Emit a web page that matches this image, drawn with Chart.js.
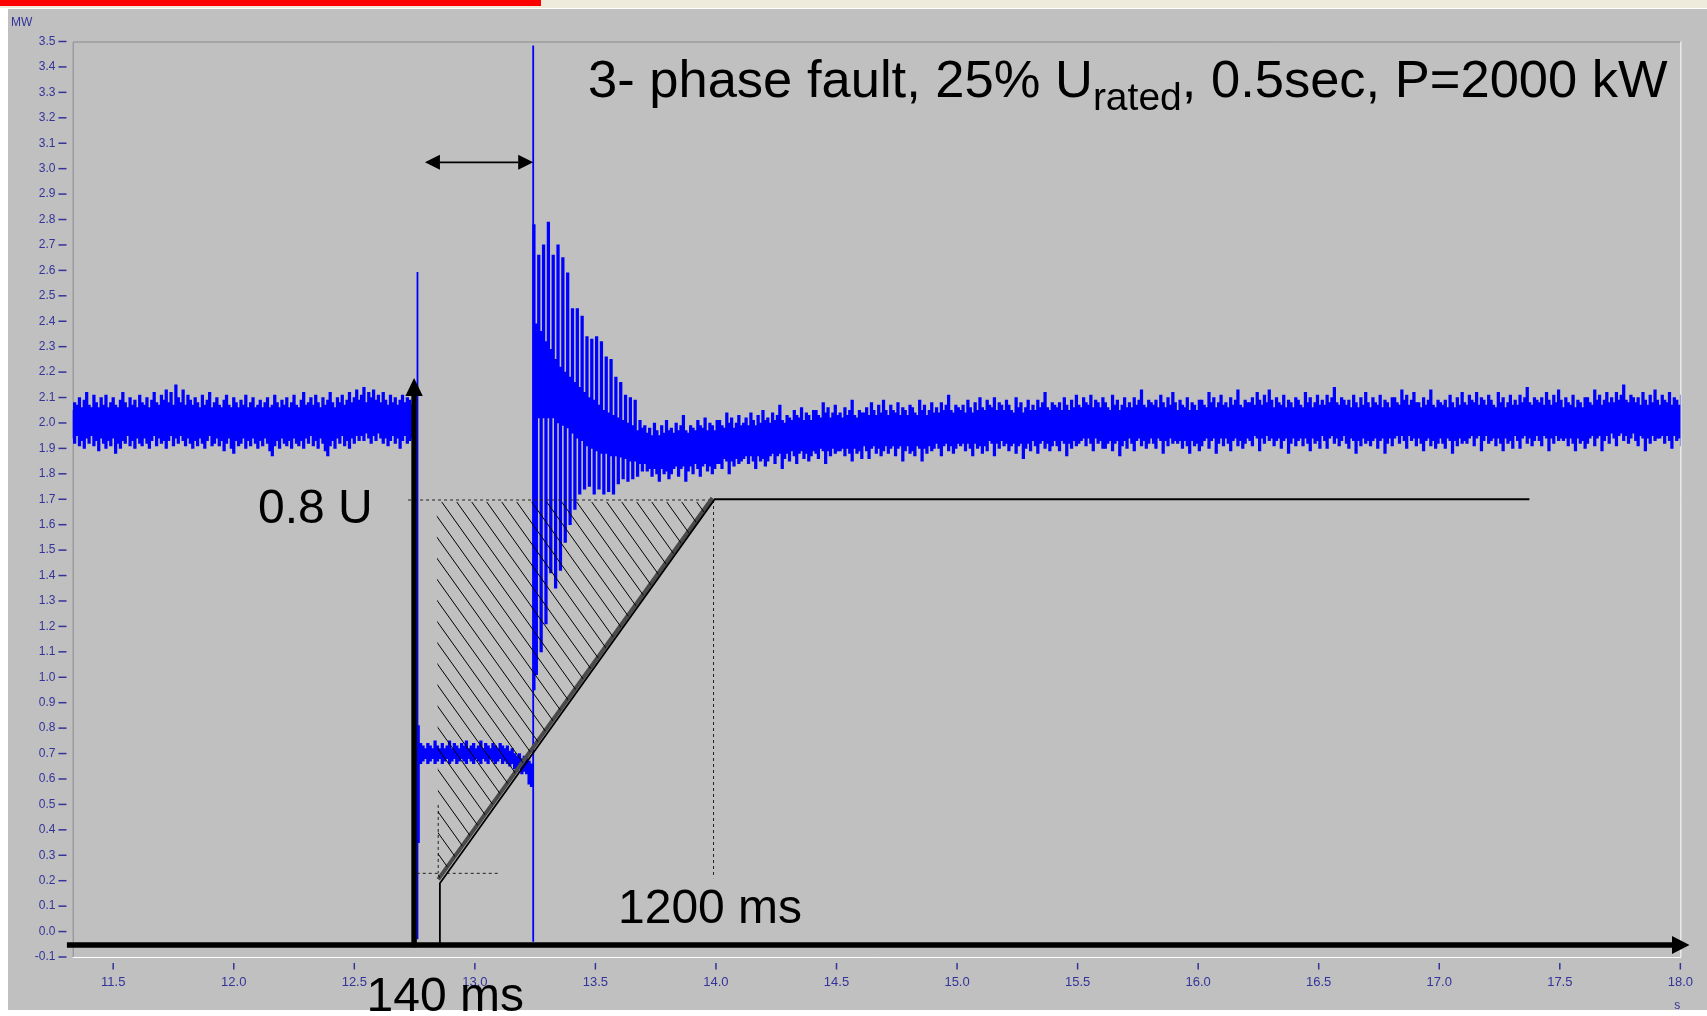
<!DOCTYPE html>
<html>
<head>
<meta charset="utf-8">
<script src="https://cdn.jsdelivr.net/npm/chart.js@4.4.1/dist/chart.umd.min.js"></script>
<style>
  html, body { margin: 0; padding: 0; background: #ffffff; overflow: hidden; }
  canvas { display: block; }
</style>
</head>
<body>
<canvas id="c" width="1707" height="1016"></canvas>
<script>
// ---------------- data ----------------
const X_MIN = 11.332, X_MAX = 18.0;
const Y_MIN = -0.1, Y_MAX = 3.5;
const xTicks = [11.5, 12.0, 12.5, 13.0, 13.5, 14.0, 14.5, 15.0, 15.5, 16.0, 16.5, 17.0, 17.5, 18.0];
const yTicks = [-0.1, 0.0, 0.1, 0.2, 0.3, 0.4, 0.5, 0.6, 0.7, 0.8, 0.9, 1.0, 1.1, 1.2, 1.3, 1.4, 1.5, 1.6, 1.7, 1.8,
                1.9, 2.0, 2.1, 2.2, 2.3, 2.4, 2.5, 2.6, 2.7, 2.8, 2.9, 3.0, 3.1, 3.2, 3.3, 3.4, 3.5];

const SAMPLE_STEP = 0.01; // s, one min/max column per sample

// pre-fault, 11.33 s .. 12.74 s : column max / min (MW)
const preStart = 11.33;
const preHi = [2.05,2.08,2.07,2.10,2.06,2.09,2.12,2.07,2.06,2.11,
 2.08,2.06,2.10,2.07,2.11,2.06,2.08,2.10,2.07,2.06,
 2.09,2.12,2.08,2.06,2.10,2.07,2.09,2.06,2.11,2.08,
 2.07,2.10,2.06,2.09,2.12,2.08,2.07,2.11,2.09,2.13,
 2.08,2.12,2.07,2.15,2.10,2.08,2.13,2.07,2.11,2.09,
 2.07,2.10,2.08,2.06,2.11,2.07,2.09,2.12,2.06,2.08,
 2.10,2.07,2.06,2.09,2.11,2.07,2.06,2.10,2.08,2.06,
 2.09,2.07,2.11,2.06,2.08,2.10,2.06,2.07,2.09,2.06,
 2.08,2.10,2.06,2.07,2.11,2.08,2.06,2.09,2.07,2.10,
 2.06,2.08,2.11,2.07,2.06,2.09,2.12,2.07,2.08,2.10,
 2.07,2.11,2.08,2.06,2.10,2.07,2.09,2.12,2.08,2.06,
 2.10,2.08,2.11,2.07,2.09,2.12,2.08,2.10,2.13,2.09,
 2.11,2.14,2.08,2.12,2.10,2.13,2.09,2.11,2.08,2.12,
 2.09,2.07,2.11,2.08,2.10,2.07,2.09,2.11,2.08,2.10,
 2.09,2.07];
const preLo = [1.94,1.92,1.95,1.91,1.93,1.90,1.94,1.92,1.95,1.91,
 1.93,1.89,1.94,1.92,1.90,1.93,1.91,1.94,1.88,1.92,
 1.90,1.93,1.92,1.95,1.91,1.93,1.90,1.94,1.92,1.91,
 1.94,1.92,1.90,1.93,1.95,1.91,1.94,1.92,1.93,1.90,
 1.93,1.95,1.91,1.94,1.92,1.95,1.93,1.91,1.94,1.92,
 1.90,1.93,1.91,1.94,1.92,1.90,1.93,1.95,1.91,1.92,
 1.94,1.91,1.93,1.89,1.92,1.94,1.90,1.88,1.93,1.91,
 1.92,1.94,1.90,1.93,1.91,1.94,1.92,1.90,1.93,1.91,
 1.94,1.92,1.89,1.87,1.91,1.93,1.90,1.94,1.92,1.91,
 1.93,1.90,1.94,1.92,1.91,1.93,1.90,1.94,1.92,1.95,
 1.91,1.93,1.90,1.94,1.92,1.89,1.87,1.91,1.93,1.90,
 1.94,1.92,1.95,1.91,1.93,1.90,1.94,1.92,1.95,1.93,
 1.95,1.93,1.96,1.94,1.92,1.95,1.93,1.96,1.94,1.92,
 1.94,1.91,1.93,1.95,1.92,1.94,1.90,1.93,1.95,1.92,
 1.93,1.94];

// during the dip, 12.765 s .. 13.235 s
const faultStart = 12.765;
const faultHi = [0.81,0.74,0.73,0.72,0.74,0.73,0.72,0.75,0.73,0.72,
 0.74,0.72,0.73,0.75,0.72,0.74,0.73,0.72,0.74,0.73,
 0.75,0.72,0.73,0.74,0.72,0.73,0.75,0.72,0.74,0.73,
 0.72,0.74,0.73,0.72,0.74,0.73,0.72,0.73,0.71,0.72,
 0.70,0.69,0.70,0.68,0.69,0.68,0.67,0.66];
const faultLo = [0.35,0.66,0.67,0.68,0.66,0.67,0.68,0.66,0.67,0.68,
 0.66,0.67,0.68,0.66,0.67,0.68,0.66,0.67,0.68,0.67,
 0.66,0.68,0.67,0.66,0.68,0.67,0.66,0.68,0.67,0.66,
 0.68,0.67,0.66,0.67,0.68,0.66,0.67,0.66,0.65,0.66,
 0.64,0.63,0.64,0.62,0.63,0.62,0.58,0.57];

// voltage return transient, 13.245 s .. 13.705 s
const recovStart = 13.245;
const transHi = [2.78,2.39,2.66,2.36,2.70,2.32,2.79,2.29,2.66,2.25,
 2.70,2.22,2.65,2.20,2.59,2.18,2.45,2.16,2.45,2.14,
 2.42,2.12,2.34,2.10,2.33,2.09,2.34,2.07,2.32,2.05,
 2.26,2.04,2.25,2.03,2.18,2.02,2.16,2.01,2.11,2.00,
 2.10,1.99,2.09,1.97,2.01,1.98,1.99];
const transLo = [0.95,1.01,2.02,1.10,2.02,1.21,2.02,1.41,2.02,1.35,
 2.00,1.42,1.99,1.53,1.98,1.60,1.96,1.66,1.94,1.72,
 1.93,1.74,1.91,1.75,1.90,1.72,1.89,1.74,1.88,1.72,
 1.88,1.73,1.87,1.72,1.87,1.76,1.865,1.78,1.86,1.77,
 1.85,1.78,1.85,1.79,1.84,1.81,1.84];

// post-fault, 13.715 s .. 18.0 s
const postHi = [1.96,1.98,1.95,2.00,1.97,1.95,1.99,1.96,2.01,1.97,
 1.98,1.96,2.00,1.97,1.99,2.03,1.97,1.96,1.99,1.98,
 1.97,2.01,1.99,1.98,2.02,1.97,2.00,1.99,1.97,2.01,
 2.01,1.99,1.98,2.04,2.00,2.02,1.98,2.00,2.03,1.99,
 2.00,2.02,1.99,2.04,2.01,1.99,2.03,2.00,2.05,2.01,
 2.02,2.00,2.04,2.01,2.03,2.07,2.01,2.00,2.03,2.02,
 2.01,2.05,2.03,2.02,2.06,2.01,2.04,2.03,2.01,2.05,
 2.05,2.03,2.02,2.08,2.04,2.06,2.02,2.04,2.07,2.03,
 2.04,2.02,2.06,2.03,2.05,2.09,2.03,2.02,2.05,2.04,
 2.04,2.06,2.03,2.08,2.05,2.03,2.07,2.04,2.09,2.05,
 2.03,2.07,2.05,2.04,2.08,2.03,2.06,2.05,2.03,2.07,
 2.06,2.04,2.03,2.09,2.05,2.07,2.03,2.05,2.08,2.04,
 2.06,2.04,2.08,2.05,2.07,2.11,2.05,2.04,2.07,2.06,
 2.05,2.07,2.04,2.09,2.06,2.04,2.08,2.05,2.10,2.06,
 2.05,2.09,2.07,2.06,2.10,2.05,2.08,2.07,2.05,2.09,
 2.07,2.05,2.04,2.10,2.06,2.08,2.04,2.06,2.09,2.05,
 2.07,2.05,2.09,2.06,2.08,2.12,2.06,2.05,2.08,2.07,
 2.06,2.08,2.05,2.10,2.07,2.05,2.09,2.06,2.11,2.07,
 2.06,2.10,2.08,2.07,2.11,2.06,2.09,2.08,2.06,2.10,
 2.08,2.06,2.05,2.11,2.07,2.09,2.05,2.07,2.10,2.06,
 2.08,2.06,2.10,2.07,2.09,2.13,2.07,2.06,2.09,2.08,
 2.07,2.09,2.06,2.11,2.08,2.06,2.10,2.07,2.12,2.08,
 2.05,2.09,2.07,2.06,2.10,2.05,2.08,2.07,2.05,2.09,
 2.09,2.07,2.06,2.12,2.08,2.10,2.06,2.08,2.11,2.07,
 2.08,2.06,2.10,2.07,2.09,2.13,2.07,2.06,2.09,2.08,
 2.08,2.10,2.07,2.12,2.09,2.07,2.11,2.08,2.13,2.09,
 2.06,2.10,2.08,2.07,2.11,2.06,2.09,2.08,2.06,2.10,
 2.09,2.07,2.06,2.12,2.08,2.10,2.06,2.08,2.11,2.07,
 2.09,2.07,2.11,2.08,2.10,2.14,2.08,2.07,2.10,2.09,
 2.07,2.09,2.06,2.11,2.08,2.06,2.10,2.07,2.12,2.08,
 2.06,2.10,2.08,2.07,2.11,2.06,2.09,2.08,2.06,2.10,
 2.10,2.08,2.07,2.13,2.09,2.11,2.07,2.09,2.12,2.08,
 2.08,2.06,2.10,2.07,2.09,2.13,2.07,2.06,2.09,2.08,
 2.07,2.09,2.06,2.11,2.08,2.06,2.10,2.07,2.12,2.08,
 2.07,2.11,2.09,2.08,2.12,2.07,2.10,2.09,2.07,2.11,
 2.09,2.07,2.06,2.12,2.08,2.10,2.06,2.08,2.11,2.07,
 2.09,2.07,2.11,2.08,2.10,2.14,2.08,2.07,2.10,2.09,
 2.08,2.10,2.07,2.12,2.09,2.07,2.11,2.08,2.13,2.09,
 2.06,2.10,2.08,2.07,2.11,2.06,2.09,2.08,2.06,2.10,
 2.10,2.08,2.07,2.13,2.09,2.11,2.07,2.09,2.12,2.08,
 2.10,2.08,2.12,2.09,2.11,2.15,2.09,2.08,2.11,2.10,
 2.08,2.10,2.07,2.12,2.09,2.07,2.11,2.08,2.13,2.09,
 2.07,2.11,2.09,2.08,2.12,2.07,2.10,2.09,2.07,2.11];
const postLo = [1.81,1.82,1.79,1.82,1.80,1.77,1.82,1.80,1.81,1.78,
 1.80,1.82,1.83,1.79,1.82,1.83,1.77,1.81,1.83,1.80,
 1.84,1.82,1.79,1.83,1.84,1.81,1.83,1.80,1.82,1.84,
 1.84,1.82,1.86,1.85,1.80,1.85,1.83,1.86,1.84,1.85,
 1.86,1.87,1.84,1.87,1.85,1.82,1.87,1.85,1.86,1.83,
 1.85,1.87,1.88,1.84,1.87,1.88,1.82,1.86,1.88,1.85,
 1.89,1.87,1.84,1.88,1.89,1.86,1.88,1.85,1.87,1.89,
 1.88,1.86,1.90,1.89,1.84,1.89,1.87,1.90,1.88,1.89,
 1.89,1.90,1.87,1.90,1.88,1.85,1.90,1.88,1.89,1.86,
 1.91,1.89,1.86,1.90,1.91,1.88,1.90,1.87,1.89,1.91,
 1.88,1.90,1.91,1.87,1.90,1.91,1.85,1.89,1.91,1.88,
 1.89,1.87,1.91,1.90,1.85,1.90,1.88,1.91,1.89,1.90,
 1.92,1.90,1.87,1.91,1.92,1.89,1.91,1.88,1.90,1.92,
 1.91,1.92,1.89,1.92,1.90,1.87,1.92,1.90,1.91,1.88,
 1.91,1.89,1.93,1.92,1.87,1.92,1.90,1.93,1.91,1.92,
 1.89,1.91,1.92,1.88,1.91,1.92,1.86,1.90,1.92,1.89,
 1.93,1.91,1.88,1.92,1.93,1.90,1.92,1.89,1.91,1.93,
 1.91,1.89,1.93,1.92,1.87,1.92,1.90,1.93,1.91,1.92,
 1.93,1.94,1.91,1.94,1.92,1.89,1.94,1.92,1.93,1.90,
 1.90,1.92,1.93,1.89,1.92,1.93,1.87,1.91,1.93,1.90,
 1.94,1.92,1.89,1.93,1.94,1.91,1.93,1.90,1.92,1.94,
 1.92,1.90,1.94,1.93,1.88,1.93,1.91,1.94,1.92,1.93,
 1.92,1.93,1.90,1.93,1.91,1.88,1.93,1.91,1.92,1.89,
 1.91,1.93,1.94,1.90,1.93,1.94,1.88,1.92,1.94,1.91,
 1.94,1.92,1.89,1.93,1.94,1.91,1.93,1.90,1.92,1.94,
 1.93,1.91,1.95,1.94,1.89,1.94,1.92,1.95,1.93,1.94,
 1.91,1.93,1.94,1.90,1.93,1.94,1.88,1.92,1.94,1.91,
 1.93,1.94,1.91,1.94,1.92,1.89,1.94,1.92,1.93,1.90,
 1.95,1.93,1.90,1.94,1.95,1.92,1.94,1.91,1.93,1.95,
 1.92,1.90,1.94,1.93,1.88,1.93,1.91,1.94,1.92,1.93,
 1.91,1.93,1.94,1.90,1.93,1.94,1.88,1.92,1.94,1.91,
 1.94,1.95,1.92,1.95,1.93,1.90,1.95,1.93,1.94,1.91,
 1.94,1.92,1.89,1.93,1.94,1.91,1.93,1.90,1.92,1.94,
 1.92,1.90,1.94,1.93,1.88,1.93,1.91,1.94,1.92,1.93,
 1.92,1.94,1.95,1.91,1.94,1.95,1.89,1.93,1.95,1.92,
 1.93,1.94,1.91,1.94,1.92,1.89,1.94,1.92,1.93,1.90,
 1.95,1.93,1.90,1.94,1.95,1.92,1.94,1.91,1.93,1.95,
 1.93,1.91,1.95,1.94,1.89,1.94,1.92,1.95,1.93,1.94,
 1.93,1.94,1.91,1.94,1.92,1.89,1.94,1.92,1.93,1.90,
 1.92,1.94,1.95,1.91,1.94,1.95,1.89,1.93,1.95,1.92,
 1.96,1.94,1.91,1.95,1.96,1.93,1.95,1.92,1.94,1.96,
 1.93,1.91,1.95,1.94,1.89,1.94,1.92,1.95,1.93,1.94,
 1.94,1.95,1.92,1.95,1.93,1.90,1.95,1.93,1.94,1.91];

// single switching spikes [time s, MW]
const onsetSpike = [[12.762, -0.03], [12.762, 2.594]];
const clearSpike = [[13.242, -0.04], [13.242, 3.484]];

// overlay drawing (time s, MW)
const lvrtCurve   = [[12.855, -0.05], [12.855, 0.19], [13.995, 1.70], [17.374, 1.70]];
const lvrtBand    = [[12.848, 0.205], [13.985, 1.705]];
const guide08     = [[12.723, 1.697], [13.99, 1.697]];
const guide1200   = [[13.99, 1.697], [13.99, 0.21]];
const guideLow    = [[12.759, 0.229], [13.097, 0.229]];
const guide140    = [[12.848, 0.498], [12.848, 0.229]];
const hatchArea   = [[12.842, 1.697], [13.985, 1.697], [12.848, 0.205]];
const timeArrow   = [[11.308, -0.053], [18.038, -0.053]];
const powerArrow  = [[12.748, -0.062], [12.748, 2.177]];
const delayArrow  = [[12.793, 3.025], [13.242, 3.025]];

// ---------------- styling ----------------
const FONT = '"Liberation Sans", Arial, Helvetica, sans-serif';
const LABEL = '#333399';
const BLUE = '#0000FF';

function columns(t0, hi, lo) {
  const n = Math.min(hi.length, lo.length);
  const out = [];
  for (let i = 0; i < n; i++) {
    out.push({ x: Math.round((t0 + i * SAMPLE_STEP) * 10000) / 10000, y: [lo[i], hi[i]] });
  }
  return out;
}
const pts = arr => arr.map(([x, y]) => ({ x, y }));

const barSet = data => ({
  type: 'bar', data, backgroundColor: BLUE, borderWidth: 0,
  barThickness: 2.6, grouped: false, order: 30
});
const lineSet = (data, color, width, dash, order) => ({
  type: 'line', data: pts(data), borderColor: color, borderWidth: width,
  borderDash: dash || [], pointRadius: 0, fill: false, tension: 0,
  clip: false, order, borderCapStyle: 'butt', borderJoinStyle: 'miter'
});

const overlay = {
  id: 'overlay',
  beforeDraw(chart) {
    const { ctx, chartArea: a } = chart;
    ctx.save();
    ctx.fillStyle = '#ffffff';
    ctx.fillRect(0, 0, chart.width, chart.height);
    ctx.fillStyle = '#EEEBDC';
    ctx.fillRect(0, 0, chart.width, 8);
    ctx.fillStyle = '#FF0000';
    ctx.fillRect(0, 0, 541, 6);
    ctx.fillStyle = '#C0C0C0';
    ctx.fillRect(8, 9, chart.width - 8, 1001);
    // sunken plot frame
    ctx.lineWidth = 1;
    ctx.strokeStyle = '#8A8A8A';
    ctx.beginPath();
    ctx.moveTo(a.left + 0.5, a.bottom); ctx.lineTo(a.left + 0.5, a.top + 0.5); ctx.lineTo(a.right, a.top + 0.5);
    ctx.stroke();
    ctx.strokeStyle = '#FFFFFF';
    ctx.beginPath();
    ctx.moveTo(a.right + 0.5, a.top); ctx.lineTo(a.right + 0.5, a.bottom + 0.5); ctx.lineTo(a.left, a.bottom + 0.5);
    ctx.stroke();
    ctx.restore();
  },
  afterDatasetsDraw(chart) {
    const { ctx } = chart;
    const sx = chart.scales.x, sy = chart.scales.y;
    const P = ([t, v]) => [sx.getPixelForValue(t), sy.getPixelForValue(v)];
    ctx.save();

    // hatching inside the LVRT triangle
    const tri = hatchArea.map(P);
    ctx.save();
    ctx.beginPath();
    ctx.moveTo(tri[0][0], tri[0][1]); ctx.lineTo(tri[1][0], tri[1][1]); ctx.lineTo(tri[2][0], tri[2][1]);
    ctx.closePath();
    ctx.clip();
    ctx.strokeStyle = '#000000';
    ctx.lineWidth = 1;
    const slope = 1.4, gap = 15, depth = 500;
    for (let k = -40; k < 30; k++) {
      const xs = tri[0][0] + 5 + k * gap;
      ctx.beginPath();
      ctx.moveTo(xs, tri[0][1] + 2);
      ctx.lineTo(xs + depth / slope, tri[0][1] + 2 + depth);
      ctx.stroke();
    }
    ctx.restore();

    // arrows
    function arrow(a, b, w, headLen, headHalf, both) {
      const [x1, y1] = P(a), [x2, y2] = P(b);
      const L = Math.hypot(x2 - x1, y2 - y1);
      const ux = (x2 - x1) / L, uy = (y2 - y1) / L;
      const nx = -uy, ny = ux;
      const sxp = both ? x1 + ux * headLen : x1, syp = both ? y1 + uy * headLen : y1;
      ctx.strokeStyle = '#000'; ctx.fillStyle = '#000';
      ctx.lineWidth = w; ctx.lineCap = 'butt';
      ctx.beginPath();
      ctx.moveTo(sxp, syp);
      ctx.lineTo(x2 - ux * headLen, y2 - uy * headLen);
      ctx.stroke();
      const head = (tx, ty, dx, dy) => {
        const bx = tx - dx * headLen, by = ty - dy * headLen;
        ctx.beginPath();
        ctx.moveTo(tx, ty);
        ctx.lineTo(bx + nx * headHalf, by + ny * headHalf);
        ctx.lineTo(bx - nx * headHalf, by - ny * headHalf);
        ctx.closePath();
        ctx.fill();
      };
      head(x2, y2, ux, uy);
      if (both) head(x1, y1, -ux, -uy);
    }
    arrow(timeArrow[0], timeArrow[1], 5.5, 17.5, 9, false);
    arrow(powerArrow[0], powerArrow[1], 5.5, 18, 8.7, false);
    arrow(delayArrow[0], delayArrow[1], 1.8, 15, 7.5, true);

    // annotation texts
    ctx.fillStyle = '#000';
    ctx.textBaseline = 'alphabetic';
    ctx.textAlign = 'left';
    const big = `52.5px ${FONT}`, sub = `39px ${FONT}`;
    let x = 588;
    const base = 96.7;
    const parts = [['3- phase fault, 25% U', big, 0], ['rated', sub, 13], [', 0.5sec, P=2000 kW', big, 0]];
    for (const [txt, f, dy] of parts) {
      ctx.font = f;
      ctx.fillText(txt, x, base + dy);
      x += ctx.measureText(txt).width;
    }
    ctx.font = `48px ${FONT}`;
    ctx.fillText('0.8 U', 258, 523.3);
    ctx.fillText('1200 ms', 618, 923.3);
    ctx.fillText('140 ms', 366.5, 1011);
    ctx.restore();
  },
  afterDraw(chart) {
    const { ctx, chartArea: a } = chart;
    const sx = chart.scales.x, sy = chart.scales.y;
    ctx.save();
    ctx.strokeStyle = LABEL;
    ctx.lineWidth = 1.5;
    for (const v of yTicks) {
      const y = sy.getPixelForValue(v);
      ctx.beginPath(); ctx.moveTo(58.5, y); ctx.lineTo(66.5, y); ctx.stroke();
    }
    for (const v of xTicks) {
      const x = sx.getPixelForValue(v);
      ctx.beginPath(); ctx.moveTo(x, a.bottom + 6); ctx.lineTo(x, a.bottom + 12.5); ctx.stroke();
    }
    ctx.fillStyle = LABEL;
    ctx.font = `12px ${FONT}`;
    ctx.textBaseline = 'alphabetic';
    ctx.textAlign = 'left';
    ctx.fillText('MW', 11, 26);
    ctx.textAlign = 'center';
    ctx.fillText('s', sx.getPixelForValue(X_MAX) - 3, 1009);
    ctx.restore();
  }
};

const chart = new Chart(document.getElementById('c'), {
  type: 'bar',
  data: {
    datasets: [
      barSet(columns(preStart, preHi, preLo)),
      barSet(columns(faultStart, faultHi, faultLo)),
      barSet(columns(recovStart, transHi.concat(postHi), transLo.concat(postLo))),
      lineSet(onsetSpike, BLUE, 1.8, null, 20),
      lineSet(clearSpike, BLUE, 1.8, null, 20),
      lineSet(guide08, '#202020', 1, [3, 3], 12),
      lineSet(guide1200, '#202020', 1, [3, 3], 12),
      lineSet(guideLow, '#202020', 1, [3, 3], 12),
      lineSet(guide140, '#202020', 1, [3, 3], 12),
      lineSet(lvrtBand, '#4A4A4A', 4, null, 11),
      lineSet(lvrtCurve, '#000000', 1.8, null, 10)
    ]
  },
  options: {
    responsive: false,
    animation: false,
    devicePixelRatio: 1,
    events: [],
    layout: { padding: { left: 0, top: 41.5, right: 26.5, bottom: 0 } },
    plugins: { legend: { display: false }, tooltip: { enabled: false }, title: { display: false } },
    scales: {
      x: {
        type: 'linear', min: X_MIN, max: X_MAX, offset: false,
        grid: { display: false, drawTicks: false }, border: { display: false },
        afterBuildTicks: s => { s.ticks = xTicks.map(v => ({ value: v })); },
        afterFit: s => { s.height = 59; },
        ticks: { autoSkip: false, maxRotation: 0, padding: 14, color: LABEL,
                 font: { family: FONT, size: 13, lineHeight: 1.75 }, callback: v => Number(v).toFixed(1) }
      },
      y: {
        type: 'linear', min: Y_MIN, max: Y_MAX,
        grid: { display: false, drawTicks: false }, border: { display: false },
        afterBuildTicks: s => { s.ticks = yTicks.map(v => ({ value: v })); },
        afterFit: s => { s.width = 72.7; },
        ticks: { autoSkip: false, padding: 17.2, color: LABEL,
                 font: { family: FONT, size: 12 }, callback: v => Number(v).toFixed(1) }
      }
    }
  },
  plugins: [overlay]
});
</script>
</body>
</html>
